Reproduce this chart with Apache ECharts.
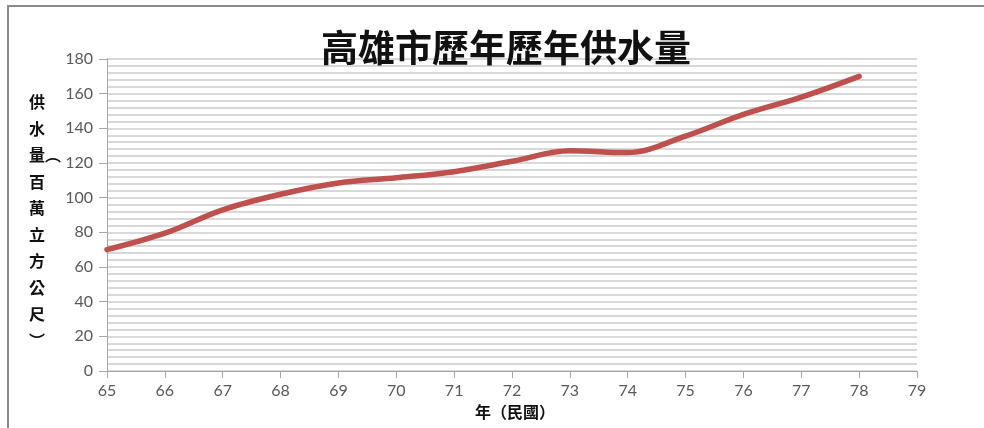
<!DOCTYPE html>
<html>
<head>
<meta charset="utf-8">
<script src="https://cdn.jsdelivr.net/npm/echarts@6/dist/echarts.min.js"></script>
<style>
  html, body { margin: 0; padding: 0; background: #ffffff; }
  #chart { width: 984px; height: 428px; }
</style>
</head>
<body>
<div id="chart"></div>
<script>
// 民國年份
const years = [65, 66, 67, 68, 69, 70, 71, 72, 73, 74, 75, 76, 77, 78];
// 供水量（百萬立方公尺）
const supply = [70, 79.5, 93, 102, 108.5, 111.5, 115, 121, 127, 126, 135.5, 148, 158, 170];

const titleText = '高雄市歷年歷年供水量';
const yName = ['供', '水', '量︵', '百', '萬', '立', '方', '公', '尺', '︶'];
const xName = '年（民國）';

const cjk = '"Noto Sans CJK TC", "Noto Sans CJK SC", sans-serif';
const latin = 'Lato, "Liberation Sans", sans-serif';

const chart = echarts.init(document.getElementById('chart'));

chart.setOption({
  backgroundColor: '#ffffff',
  animation: false,
  title: {
    text: titleText,
    left: 501,
    top: 24,
    textAlign: 'center',
    textStyle: { fontFamily: cjk, fontSize: 37, fontWeight: 'bold', color: '#111111' }
  },
  grid: { left: 107, right: 67, top: 59, bottom: 57, containLabel: false },
  xAxis: {
    type: 'value',
    min: 65,
    max: 79,
    interval: 1,
    name: xName,
    nameLocation: 'middle',
    nameGap: 30,
    nameTextStyle: { fontFamily: cjk, fontSize: 16, fontWeight: 'bold', color: '#111111', padding: [0, 0, 0, 6] },
    axisLine: { show: true, lineStyle: { color: '#a6a6a6', width: 1 } },
    axisTick: { show: true, length: 7, lineStyle: { color: '#a6a6a6' } },
    axisLabel: { margin: 12, fontFamily: latin, fontSize: 16, color: '#595959' },
    splitLine: { show: false }
  },
  yAxis: {
    type: 'value',
    min: 0,
    max: 180,
    interval: 20,
    axisLine: { show: true, lineStyle: { color: '#a6a6a6', width: 1 } },
    axisTick: { show: true, length: 8, lineStyle: { color: '#a6a6a6' } },
    axisLabel: { margin: 14, fontFamily: latin, fontSize: 16, color: '#595959' },
    splitLine: { show: true, lineStyle: { color: '#cccccc', width: 1.5 } },
    minorTick: { show: false, splitNumber: 5 },
    minorSplitLine: { show: true, lineStyle: { color: '#cccccc', width: 1.5 } }
  },
  graphic: [
    {
      type: 'rect',
      shape: { x: 8, y: 6, width: 990, height: 440 },
      style: { fill: 'none', stroke: '#8a8a8a', lineWidth: 2 },
      silent: true
    },
    {
      type: 'text',
      left: 29,
      top: 89,
      style: {
        text: yName.join('\n'),
        fontFamily: cjk,
        fontSize: 16,
        fontWeight: 'bold',
        lineHeight: 26.5,
        fill: '#111111'
      }
    }
  ],
  series: [
    {
      type: 'line',
      data: years.map((y, i) => [y, supply[i]]),
      smooth: 0.35,
      showSymbol: false,
      lineStyle: { color: '#c0504d', width: 5.5, cap: 'round', join: 'round' }
    }
  ]
});
</script>
</body>
</html>
